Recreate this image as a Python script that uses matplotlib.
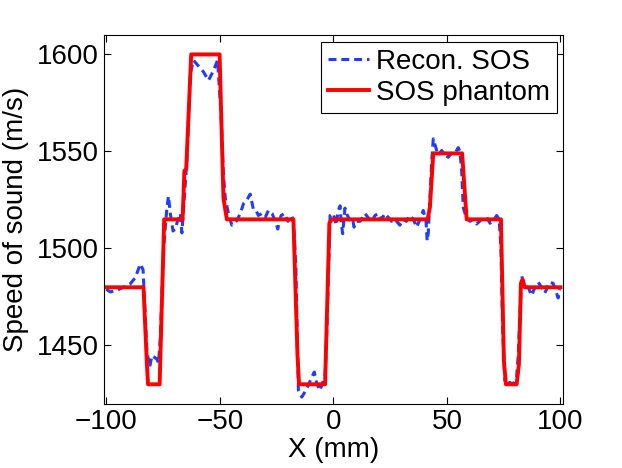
import matplotlib
matplotlib.use('Agg')
import matplotlib.pyplot as plt

plt.rcParams.update({
    'font.family': ['Liberation Sans', 'DejaVu Sans'],
    'font.size': 20,
    'axes.linewidth': 0.8,
    'xtick.direction': 'in',
    'ytick.direction': 'in',
    'xtick.top': True,
    'ytick.right': True,
    'xtick.major.size': 5,
    'ytick.major.size': 5,
})

# SOS phantom (breakpoints of the piecewise profile)
phantom_x = [-100, -83.6, -82.1, -81.6, -76.5, -74.5, -66.4, -65.6, -64.8, -62.6,
             -50.1, -48.4, -46.9, -17.6, -15.8, -15.1, -3.65, -1.76, -0.7, 41.5,
             42.5, 44.0, 56.7, 58.7, 73.8, 75.1, 76.0, 80.7, 81.7, 82.6, 83.3, 84.3, 100]
phantom_y = [1480, 1480, 1440, 1430, 1430, 1515, 1515, 1540, 1541, 1600,
             1600, 1526, 1515, 1515, 1445, 1430, 1430, 1513, 1515, 1515,
             1521, 1549, 1549, 1515, 1515, 1442, 1430, 1430, 1440, 1482, 1484, 1480, 1480]

# Reconstructed SOS
recon_x = [-100, -98.2, -95.3, -92.4, -89.4, -87.2, -85.0, -83.8, -82.8, -82.1,
           -80.9, -79.9, -77.7, -77.0, -76.2, -75.5, -74.8, -73.3, -72.6, -71.8,
           -70.6, -69.6, -68.2, -67.4, -66.7, -66.0, -65.2, -64.5, -63.5, -63.0,
           -61.6, -59.4, -57.2, -55.0, -53.5, -52.0, -51.0, -49.5, -48.5, -47.6,
           -46.2, -44.7, -42.5, -41.0, -39.6, -38.1, -36.6, -35.2, -34.1, -33.0,
           -31.5, -30.0, -28.6, -27.0, -25.5, -24.5, -23.0, -21.5, -20.0, -19.0,
           -18.3, -17.5, -16.5, -16.0, -15.4, -13.9, -11.7, -9.5, -8.4, -7.3,
           -5.9, -4.4, -3.65, -2.8, -2.0, -1.45, 0.0, 1.2, 2.2, 2.95,
           3.5, 4.1, 5.1, 6.2, 7.5, 8.5, 9.1, 10.2, 11.8, 13.9,
           15.3, 16.9, 18.3, 19.8, 21.2, 22.7, 24.2, 25.6, 27.1, 29.3,
           30.7, 32.2, 33.7, 35.2, 36.7, 38.1, 39.6, 40.8, 41.3, 41.8,
           42.5, 43.3, 44.0, 45.5, 46.2, 47.7, 49.2, 50.6, 52.0, 53.5,
           55.0, 55.7, 56.5, 57.2, 58.7, 60.2, 61.6, 63.1, 65.3, 67.5,
           69.0, 70.4, 71.9, 73.0, 73.8, 74.5, 75.5, 76.5, 77.6, 79.1,
           80.7, 81.4, 82.1, 82.9, 83.6, 84.3, 85.8, 87.3, 88.8, 90.2,
           91.7, 93.1, 95.3, 96.8, 98.3, 99.0, 99.7]
recon_y = [1479, 1477.6, 1478.5, 1480, 1481.8, 1485, 1492, 1489, 1464.6, 1447,
           1438.8, 1444.8, 1443, 1441, 1454, 1477, 1499, 1521, 1527, 1518,
           1509, 1510, 1516, 1518, 1508, 1520, 1533.5, 1545, 1575, 1590,
           1597, 1594, 1591, 1586.6, 1590, 1594, 1597, 1570, 1540, 1526,
           1518, 1512, 1514.4, 1518, 1523, 1525, 1528, 1520, 1519.6, 1517,
           1518, 1516, 1519.6, 1518, 1514, 1510, 1517, 1518, 1514, 1516,
           1517, 1513, 1490, 1460, 1427, 1423.4, 1427.7, 1433.7, 1436.3, 1430.3,
           1426.8, 1432, 1434.5, 1460, 1495, 1517, 1518, 1512, 1519.6, 1522,
           1513, 1507.6, 1520.8, 1517, 1514, 1515, 1511, 1514, 1514, 1518,
           1516, 1513.5, 1517, 1518, 1515, 1518, 1516, 1514, 1515, 1512,
           1515, 1514, 1517, 1515, 1511, 1515, 1519.6, 1514, 1504, 1508,
           1525, 1545, 1556.5, 1550.5, 1548, 1550.5, 1548, 1547, 1549, 1549,
           1552, 1550, 1540, 1521, 1515.5, 1514, 1515, 1512.6, 1515, 1516,
           1513, 1514, 1517, 1515, 1500, 1460, 1432, 1429, 1431, 1430,
           1433.7, 1445, 1464.6, 1486, 1483, 1480, 1480, 1475.8, 1480, 1482.6,
           1480, 1477, 1482.6, 1482, 1477, 1474.5, 1479]

x_ticks = [-100, -50, 0, 50, 100]
y_ticks = [1450, 1500, 1550, 1600]

fig = plt.figure(figsize=(6.22, 4.68), dpi=100)
ax = fig.add_axes([0.1672, 0.1374, 0.7375, 0.7878])

ax.plot(recon_x, recon_y, color='#1f3cff', linewidth=2.2,
        linestyle=(0, (2.6, 1.6)), label='Recon. SOS')
ax.plot(phantom_x, phantom_y, color='red', linewidth=2.8, label='SOS phantom')

ax.set_xlim(-101, 101)
ax.set_ylim(1420, 1610)
ax.set_xticks(x_ticks)
ax.set_yticks(y_ticks)
ax.set_xlabel('X (mm)', labelpad=2)
ax.set_ylabel('Speed of sound (m/s)', labelpad=6)

leg = ax.legend(loc='upper right', bbox_to_anchor=(557.3 / 622, 1 - 41.7 / 468),
                bbox_transform=fig.transFigure, fancybox=False, edgecolor='black',
                framealpha=1, borderaxespad=0, borderpad=0.25, handlelength=1.5,
                handletextpad=0.25, labelspacing=0.2)
leg.get_frame().set_linewidth(0.8)

fig.savefig('out.png', dpi=100)
